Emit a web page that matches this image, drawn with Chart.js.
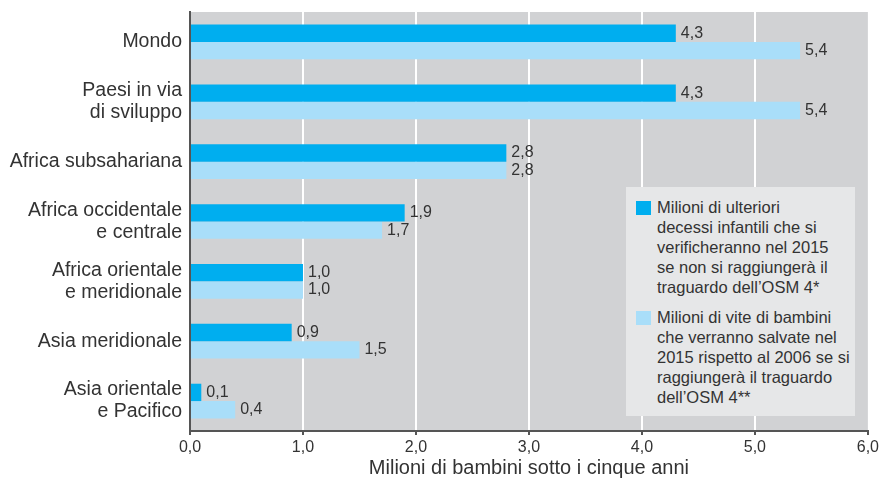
<!DOCTYPE html>
<html><head><meta charset="utf-8">
<script src="https://cdn.jsdelivr.net/npm/chart.js@4/dist/chart.umd.min.js"></script>
<style>
html,body{margin:0;padding:0;background:#fff;}
#wrap{position:relative;width:882px;height:480px;}
#legend{position:absolute;left:626px;top:187px;width:229px;height:229px;background:#e6e7e8;box-sizing:border-box;padding:10px 4px 0 10px;font-family:"Liberation Sans",Arial,sans-serif;font-size:16.5px;line-height:20px;color:#333;}
.item{display:flex;align-items:flex-start;margin-bottom:10px;}
.sw{width:15px;height:14px;flex:none;margin:4px 6px 0 0;}
</style></head>
<body><div id="wrap"><canvas id="c" width="882" height="480"></canvas>
<div id="legend"></div></div>
<script>
const categories = [["Mondo"],["Paesi in via","di sviluppo"],["Africa subsahariana"],["Africa occidentale","e centrale"],["Africa orientale","e meridionale"],["Asia meridionale"],["Asia orientale","e Pacifico"]];
const deaths = [4.3,4.3,2.8,1.9,1.0,0.9,0.1];
const saved = [5.4,5.4,2.8,1.7,1.0,1.5,0.4];
const seriesNames = ["Milioni di ulteriori decessi infantili che si verificheranno nel 2015 se non si raggiungerà il traguardo dell’OSM 4*","Milioni di vite di bambini che verranno salvate nel 2015 rispetto al 2006 se si raggiungerà il traguardo dell’OSM 4**"];
const legendLines = [["Milioni di ulteriori","decessi infantili che si","verificheranno nel 2015","se non si raggiungerà il","traguardo dell’OSM 4*"],["Milioni di vite di bambini","che verranno salvate nel","2015 rispetto al 2006 se si","raggiungerà il traguardo","dell’OSM 4**"]];
const axisTitle = "Milioni di bambini sotto i cinque anni";
const colors = ["#00aeef","#a9def9"];
const FONT = '"Liberation Sans", Arial, sans-serif';
const fmt = v => v.toFixed(1).replace('.', ',');

const legendEl = document.getElementById('legend');
legendLines.forEach((lines,i)=>{
  const d=document.createElement('div');d.className='item';
  d.innerHTML='<div class="sw" style="background:'+colors[i]+'"></div><div>'+lines.join('<br>')+'</div>';
  legendEl.appendChild(d);
});

const bgPlugin = {id:'bg',beforeDraw(chart){const {ctx,chartArea:a}=chart;ctx.save();ctx.fillStyle='#d1d2d4';ctx.fillRect(a.left,a.top,a.right-a.left,a.bottom-a.top);ctx.restore();}};
const valPlugin = {id:'vals',afterDatasetsDraw(chart){const ctx=chart.ctx;ctx.save();ctx.font='16px '+FONT;ctx.fillStyle='#333';ctx.textBaseline='middle';ctx.textAlign='left';
  chart.data.datasets.forEach((ds,di)=>{chart.getDatasetMeta(di).data.forEach((el,i)=>{ctx.fillText(fmt(ds.data[i]),el.x+5,el.y);});});ctx.restore();}};

new Chart(document.getElementById('c'),{
  type:'bar',
  data:{labels:categories,datasets:[
    {label:seriesNames[0],data:deaths,backgroundColor:colors[0],categoryPercentage:0.58,barPercentage:1},
    {label:seriesNames[1],data:saved,backgroundColor:colors[1],categoryPercentage:0.58,barPercentage:1}]},
  options:{indexAxis:'y',responsive:false,animation:false,
    layout:{padding:{left:0,right:14,top:12,bottom:0}},
    plugins:{legend:{display:false},tooltip:{enabled:false}},
    scales:{
      x:{min:0,max:6,afterFit(s){s.height=49;},
        ticks:{stepSize:1,callback:v=>fmt(v),color:'#333',font:{family:FONT,size:16},padding:3},
        grid:{color:c=>(c.tick&&c.tick.value>0&&c.tick.value<6)?'#ffffff':'rgba(0,0,0,0)',lineWidth:2,tickColor:'#555',tickLength:4,drawTicks:true},
        border:{display:true,color:'#555',width:2},
        title:{display:true,text:axisTitle,color:'#333',font:{family:FONT,size:20},padding:{top:0,bottom:0}}},
      y:{afterFit(s){s.width=190;s.paddingTop=0;s.paddingBottom=0;},ticks:{color:'#333',font:{family:FONT,size:19.5,lineHeight:1.13},padding:8},
        grid:{display:false,drawTicks:false},border:{display:true,color:'#555',width:2}}
    }},
  plugins:[bgPlugin,valPlugin]
});
</script></body></html>
